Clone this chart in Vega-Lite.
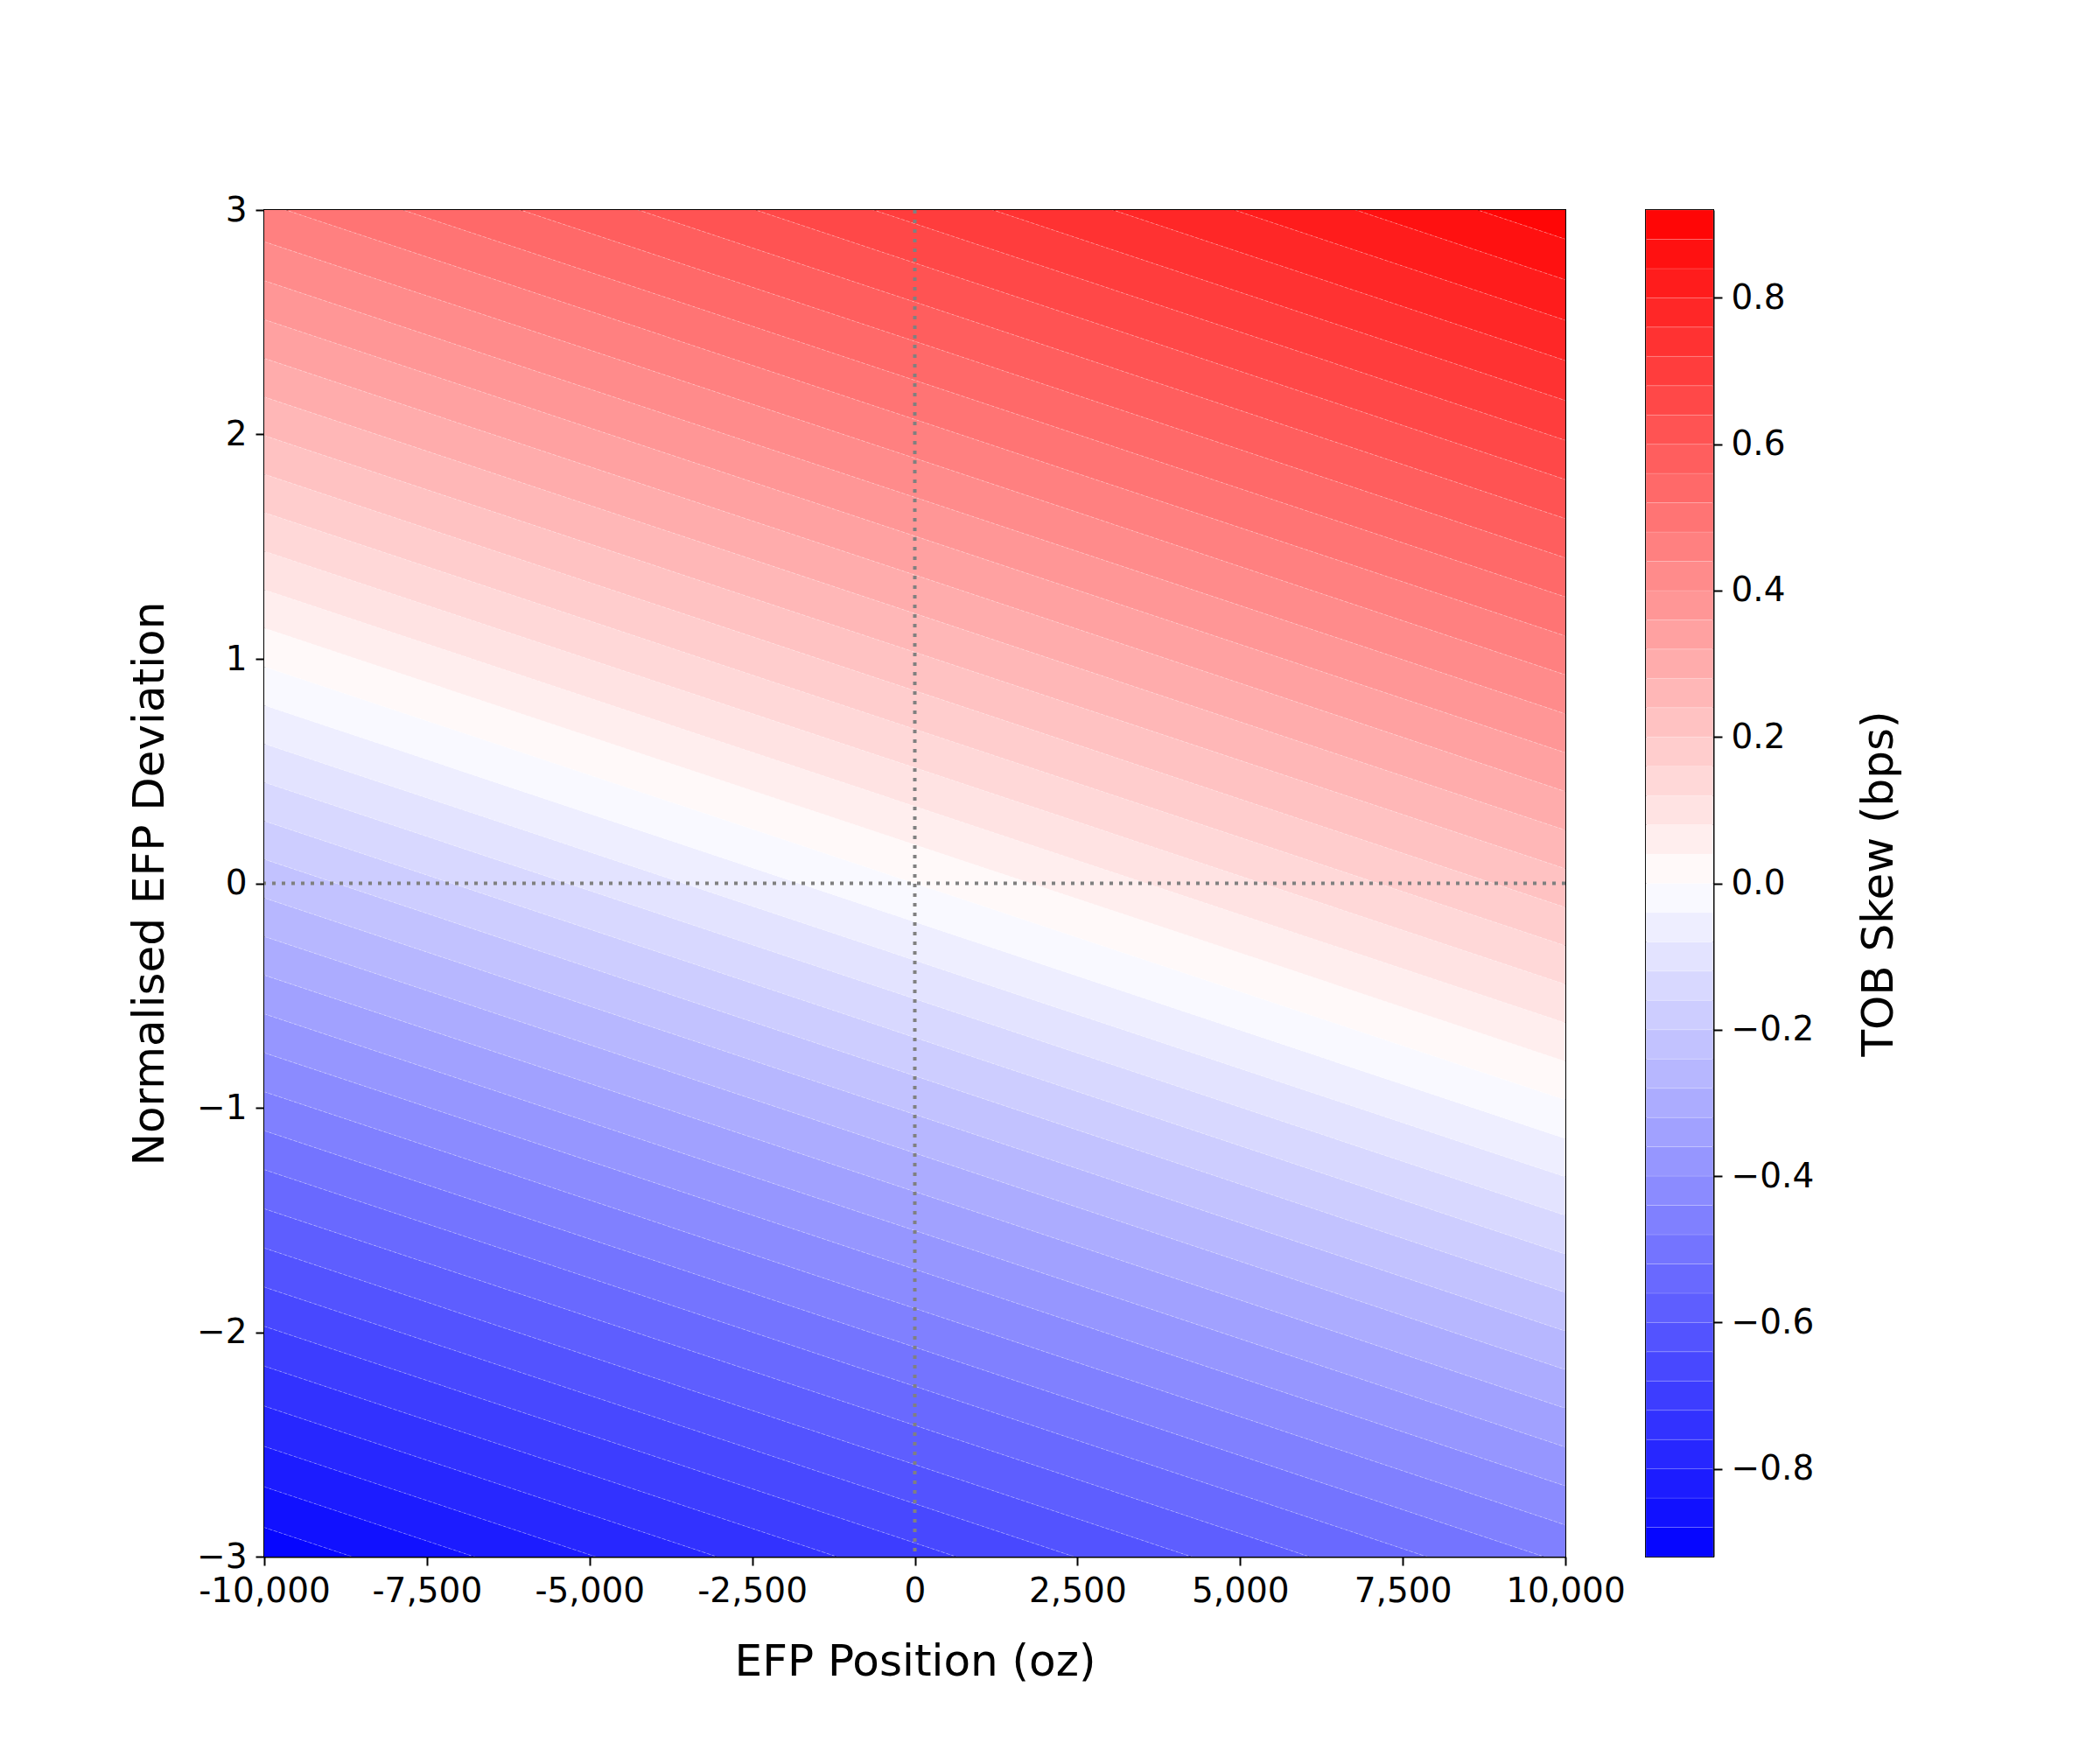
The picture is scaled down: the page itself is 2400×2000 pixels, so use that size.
{
  "$schema": "https://vega.github.io/schema/vega-lite/v6.json",
  "padding": {"left": 145, "top": 220, "right": 10, "bottom": 10},
  "background": "white",
  "config": {
    "font": "DejaVu Sans",
    "view": {"stroke": "black", "strokeWidth": 2, "strokeOpacity": 1},
    "axis": {
      "domainColor": "black", "domainWidth": 2,
      "tickColor": "black", "tickWidth": 2, "tickSize": 10,
      "labelPadding": 10, "labelFontSize": 39, "labelColor": "black", "labelFont": "DejaVu Sans",
      "labelOverlap": false, "labelFlush": false,
      "titleFontSize": 50, "titleFontWeight": "normal", "titleColor": "black", "titleFont": "DejaVu Sans",
      "grid": false
    }
  },
  "datasets": {
    "bands": [
      {"skew": -0.90, "lo": -0.92, "hi": -0.88, "pos": -10000, "d0": -3.051, "d1": -2.870},
      {"skew": -0.90, "lo": -0.92, "hi": -0.88, "pos": 10000, "d0": -4.981, "d1": -4.800},
      {"skew": -0.86, "lo": -0.88, "hi": -0.84, "pos": -10000, "d0": -2.870, "d1": -2.689},
      {"skew": -0.86, "lo": -0.88, "hi": -0.84, "pos": 10000, "d0": -4.800, "d1": -4.619},
      {"skew": -0.82, "lo": -0.84, "hi": -0.80, "pos": -10000, "d0": -2.689, "d1": -2.509},
      {"skew": -0.82, "lo": -0.84, "hi": -0.80, "pos": 10000, "d0": -4.619, "d1": -4.439},
      {"skew": -0.78, "lo": -0.80, "hi": -0.76, "pos": -10000, "d0": -2.509, "d1": -2.329},
      {"skew": -0.78, "lo": -0.80, "hi": -0.76, "pos": 10000, "d0": -4.439, "d1": -4.259},
      {"skew": -0.74, "lo": -0.76, "hi": -0.72, "pos": -10000, "d0": -2.329, "d1": -2.151},
      {"skew": -0.74, "lo": -0.76, "hi": -0.72, "pos": 10000, "d0": -4.259, "d1": -4.081},
      {"skew": -0.70, "lo": -0.72, "hi": -0.68, "pos": -10000, "d0": -2.151, "d1": -1.974},
      {"skew": -0.70, "lo": -0.72, "hi": -0.68, "pos": 10000, "d0": -4.081, "d1": -3.904},
      {"skew": -0.66, "lo": -0.68, "hi": -0.64, "pos": -10000, "d0": -1.974, "d1": -1.799},
      {"skew": -0.66, "lo": -0.68, "hi": -0.64, "pos": 10000, "d0": -3.904, "d1": -3.729},
      {"skew": -0.62, "lo": -0.64, "hi": -0.60, "pos": -10000, "d0": -1.799, "d1": -1.625},
      {"skew": -0.62, "lo": -0.64, "hi": -0.60, "pos": 10000, "d0": -3.729, "d1": -3.555},
      {"skew": -0.58, "lo": -0.60, "hi": -0.56, "pos": -10000, "d0": -1.625, "d1": -1.450},
      {"skew": -0.58, "lo": -0.60, "hi": -0.56, "pos": 10000, "d0": -3.555, "d1": -3.380},
      {"skew": -0.54, "lo": -0.56, "hi": -0.52, "pos": -10000, "d0": -1.450, "d1": -1.276},
      {"skew": -0.54, "lo": -0.56, "hi": -0.52, "pos": 10000, "d0": -3.380, "d1": -3.206},
      {"skew": -0.50, "lo": -0.52, "hi": -0.48, "pos": -10000, "d0": -1.276, "d1": -1.102},
      {"skew": -0.50, "lo": -0.52, "hi": -0.48, "pos": 10000, "d0": -3.206, "d1": -3.032},
      {"skew": -0.46, "lo": -0.48, "hi": -0.44, "pos": -10000, "d0": -1.102, "d1": -0.929},
      {"skew": -0.46, "lo": -0.48, "hi": -0.44, "pos": 10000, "d0": -3.032, "d1": -2.859},
      {"skew": -0.42, "lo": -0.44, "hi": -0.40, "pos": -10000, "d0": -0.929, "d1": -0.755},
      {"skew": -0.42, "lo": -0.44, "hi": -0.40, "pos": 10000, "d0": -2.859, "d1": -2.685},
      {"skew": -0.38, "lo": -0.40, "hi": -0.36, "pos": -10000, "d0": -0.755, "d1": -0.582},
      {"skew": -0.38, "lo": -0.40, "hi": -0.36, "pos": 10000, "d0": -2.685, "d1": -2.512},
      {"skew": -0.34, "lo": -0.36, "hi": -0.32, "pos": -10000, "d0": -0.582, "d1": -0.409},
      {"skew": -0.34, "lo": -0.36, "hi": -0.32, "pos": 10000, "d0": -2.512, "d1": -2.339},
      {"skew": -0.30, "lo": -0.32, "hi": -0.28, "pos": -10000, "d0": -0.409, "d1": -0.237},
      {"skew": -0.30, "lo": -0.32, "hi": -0.28, "pos": 10000, "d0": -2.339, "d1": -2.167},
      {"skew": -0.26, "lo": -0.28, "hi": -0.24, "pos": -10000, "d0": -0.237, "d1": -0.065},
      {"skew": -0.26, "lo": -0.28, "hi": -0.24, "pos": 10000, "d0": -2.167, "d1": -1.995},
      {"skew": -0.22, "lo": -0.24, "hi": -0.20, "pos": -10000, "d0": -0.065, "d1": 0.107},
      {"skew": -0.22, "lo": -0.24, "hi": -0.20, "pos": 10000, "d0": -1.995, "d1": -1.823},
      {"skew": -0.18, "lo": -0.20, "hi": -0.16, "pos": -10000, "d0": 0.107, "d1": 0.278},
      {"skew": -0.18, "lo": -0.20, "hi": -0.16, "pos": 10000, "d0": -1.823, "d1": -1.652},
      {"skew": -0.14, "lo": -0.16, "hi": -0.12, "pos": -10000, "d0": 0.278, "d1": 0.450},
      {"skew": -0.14, "lo": -0.16, "hi": -0.12, "pos": 10000, "d0": -1.652, "d1": -1.480},
      {"skew": -0.10, "lo": -0.12, "hi": -0.08, "pos": -10000, "d0": 0.450, "d1": 0.622},
      {"skew": -0.10, "lo": -0.12, "hi": -0.08, "pos": 10000, "d0": -1.480, "d1": -1.308},
      {"skew": -0.06, "lo": -0.08, "hi": -0.04, "pos": -10000, "d0": 0.622, "d1": 0.793},
      {"skew": -0.06, "lo": -0.08, "hi": -0.04, "pos": 10000, "d0": -1.308, "d1": -1.137},
      {"skew": -0.02, "lo": -0.04, "hi": 0.00, "pos": -10000, "d0": 0.793, "d1": 0.965},
      {"skew": -0.02, "lo": -0.04, "hi": 0.00, "pos": 10000, "d0": -1.137, "d1": -0.965},
      {"skew": 0.02, "lo": 0.00, "hi": 0.04, "pos": -10000, "d0": 0.965, "d1": 1.137},
      {"skew": 0.02, "lo": 0.00, "hi": 0.04, "pos": 10000, "d0": -0.965, "d1": -0.793},
      {"skew": 0.06, "lo": 0.04, "hi": 0.08, "pos": -10000, "d0": 1.137, "d1": 1.308},
      {"skew": 0.06, "lo": 0.04, "hi": 0.08, "pos": 10000, "d0": -0.793, "d1": -0.622},
      {"skew": 0.10, "lo": 0.08, "hi": 0.12, "pos": -10000, "d0": 1.308, "d1": 1.480},
      {"skew": 0.10, "lo": 0.08, "hi": 0.12, "pos": 10000, "d0": -0.622, "d1": -0.450},
      {"skew": 0.14, "lo": 0.12, "hi": 0.16, "pos": -10000, "d0": 1.480, "d1": 1.652},
      {"skew": 0.14, "lo": 0.12, "hi": 0.16, "pos": 10000, "d0": -0.450, "d1": -0.278},
      {"skew": 0.18, "lo": 0.16, "hi": 0.20, "pos": -10000, "d0": 1.652, "d1": 1.823},
      {"skew": 0.18, "lo": 0.16, "hi": 0.20, "pos": 10000, "d0": -0.278, "d1": -0.107},
      {"skew": 0.22, "lo": 0.20, "hi": 0.24, "pos": -10000, "d0": 1.823, "d1": 1.995},
      {"skew": 0.22, "lo": 0.20, "hi": 0.24, "pos": 10000, "d0": -0.107, "d1": 0.065},
      {"skew": 0.26, "lo": 0.24, "hi": 0.28, "pos": -10000, "d0": 1.995, "d1": 2.167},
      {"skew": 0.26, "lo": 0.24, "hi": 0.28, "pos": 10000, "d0": 0.065, "d1": 0.237},
      {"skew": 0.30, "lo": 0.28, "hi": 0.32, "pos": -10000, "d0": 2.167, "d1": 2.339},
      {"skew": 0.30, "lo": 0.28, "hi": 0.32, "pos": 10000, "d0": 0.237, "d1": 0.409},
      {"skew": 0.34, "lo": 0.32, "hi": 0.36, "pos": -10000, "d0": 2.339, "d1": 2.512},
      {"skew": 0.34, "lo": 0.32, "hi": 0.36, "pos": 10000, "d0": 0.409, "d1": 0.582},
      {"skew": 0.38, "lo": 0.36, "hi": 0.40, "pos": -10000, "d0": 2.512, "d1": 2.685},
      {"skew": 0.38, "lo": 0.36, "hi": 0.40, "pos": 10000, "d0": 0.582, "d1": 0.755},
      {"skew": 0.42, "lo": 0.40, "hi": 0.44, "pos": -10000, "d0": 2.685, "d1": 2.859},
      {"skew": 0.42, "lo": 0.40, "hi": 0.44, "pos": 10000, "d0": 0.755, "d1": 0.929},
      {"skew": 0.46, "lo": 0.44, "hi": 0.48, "pos": -10000, "d0": 2.859, "d1": 3.032},
      {"skew": 0.46, "lo": 0.44, "hi": 0.48, "pos": 10000, "d0": 0.929, "d1": 1.102},
      {"skew": 0.50, "lo": 0.48, "hi": 0.52, "pos": -10000, "d0": 3.032, "d1": 3.206},
      {"skew": 0.50, "lo": 0.48, "hi": 0.52, "pos": 10000, "d0": 1.102, "d1": 1.276},
      {"skew": 0.54, "lo": 0.52, "hi": 0.56, "pos": -10000, "d0": 3.206, "d1": 3.380},
      {"skew": 0.54, "lo": 0.52, "hi": 0.56, "pos": 10000, "d0": 1.276, "d1": 1.450},
      {"skew": 0.58, "lo": 0.56, "hi": 0.60, "pos": -10000, "d0": 3.380, "d1": 3.555},
      {"skew": 0.58, "lo": 0.56, "hi": 0.60, "pos": 10000, "d0": 1.450, "d1": 1.625},
      {"skew": 0.62, "lo": 0.60, "hi": 0.64, "pos": -10000, "d0": 3.555, "d1": 3.729},
      {"skew": 0.62, "lo": 0.60, "hi": 0.64, "pos": 10000, "d0": 1.625, "d1": 1.799},
      {"skew": 0.66, "lo": 0.64, "hi": 0.68, "pos": -10000, "d0": 3.729, "d1": 3.904},
      {"skew": 0.66, "lo": 0.64, "hi": 0.68, "pos": 10000, "d0": 1.799, "d1": 1.974},
      {"skew": 0.70, "lo": 0.68, "hi": 0.72, "pos": -10000, "d0": 3.904, "d1": 4.081},
      {"skew": 0.70, "lo": 0.68, "hi": 0.72, "pos": 10000, "d0": 1.974, "d1": 2.151},
      {"skew": 0.74, "lo": 0.72, "hi": 0.76, "pos": -10000, "d0": 4.081, "d1": 4.259},
      {"skew": 0.74, "lo": 0.72, "hi": 0.76, "pos": 10000, "d0": 2.151, "d1": 2.329},
      {"skew": 0.78, "lo": 0.76, "hi": 0.80, "pos": -10000, "d0": 4.259, "d1": 4.439},
      {"skew": 0.78, "lo": 0.76, "hi": 0.80, "pos": 10000, "d0": 2.329, "d1": 2.509},
      {"skew": 0.82, "lo": 0.80, "hi": 0.84, "pos": -10000, "d0": 4.439, "d1": 4.619},
      {"skew": 0.82, "lo": 0.80, "hi": 0.84, "pos": 10000, "d0": 2.509, "d1": 2.689},
      {"skew": 0.86, "lo": 0.84, "hi": 0.88, "pos": -10000, "d0": 4.619, "d1": 4.800},
      {"skew": 0.86, "lo": 0.84, "hi": 0.88, "pos": 10000, "d0": 2.689, "d1": 2.870},
      {"skew": 0.90, "lo": 0.88, "hi": 0.92, "pos": -10000, "d0": 4.800, "d1": 4.981},
      {"skew": 0.90, "lo": 0.88, "hi": 0.92, "pos": 10000, "d0": 2.870, "d1": 3.051}
    ],
    "zero": [{"v": 0}]
  },
  "spacing": 20,
  "hconcat": [
    {
      "width": 1487,
      "height": 1539,
      "layer": [
        {
          "data": {"name": "bands"},
          "mark": {"type": "area", "clip": true, "opacity": 1},
          "encoding": {
            "x": {
              "field": "pos", "type": "quantitative",
              "scale": {"domain": [-10000, 10000], "nice": false, "zero": false},
              "axis": {
                "title": "EFP Position (oz)",
                "values": [-10000, -7500, -5000, -2500, 0, 2500, 5000, 7500, 10000],
                "labelExpr": "replace(format(datum.value, ','), '\u2212', '-')",
                "titlePadding": 36
              }
            },
            "y": {
              "field": "d0", "type": "quantitative",
              "scale": {"domain": [-3, 3], "nice": false, "zero": false},
              "axis": {
                "title": "Normalised EFP Deviation",
                "values": [-3, -2, -1, 0, 1, 2, 3],
                "format": "d",
                "titlePadding": 28
              }
            },
            "y2": {"field": "d1"},
            "color": {
              "field": "skew", "type": "quantitative",
              "scale": {"domain": [-0.92, 0, 0.92], "range": ["#0000ff", "#ffffff", "#ff0000"], "interpolate": "rgb"},
              "legend": null
            },
            "detail": {"field": "skew", "type": "nominal"}
          }
        },
        {
          "data": {"name": "bands"},
          "mark": {"type": "line", "clip": true, "color": "white", "strokeOpacity": 0.3, "strokeWidth": 1, "strokeDash": [3, 3]},
          "encoding": {
            "x": {"field": "pos", "type": "quantitative"},
            "y": {"field": "d0", "type": "quantitative"},
            "detail": {"field": "skew", "type": "nominal"}
          }
        },
        {
          "data": {"name": "zero"},
          "mark": {"type": "rule", "color": "#808080", "strokeWidth": 4, "strokeDash": [4, 7]},
          "encoding": {"x": {"field": "v", "type": "quantitative"}}
        },
        {
          "data": {"name": "zero"},
          "mark": {"type": "rule", "color": "#808080", "strokeWidth": 4, "strokeDash": [4, 7]},
          "encoding": {"y": {"field": "v", "type": "quantitative"}}
        }
      ]
    },
    {
      "width": 77,
      "height": 1539,
      "data": {"name": "bands"},
      "transform": [{"filter": "datum.pos < 0"}],
      "mark": {"type": "rect", "stroke": "white", "strokeOpacity": 0.15, "strokeWidth": 1},
      "encoding": {
        "y": {
          "field": "lo", "type": "quantitative",
          "scale": {"domain": [-0.92, 0.92], "nice": false, "zero": false},
          "axis": {
            "orient": "right",
            "title": "TOB Skew (bps)",
            "values": [-0.8, -0.6, -0.4, -0.2, 0, 0.2, 0.4, 0.6, 0.8],
            "format": ".1f",
            "titleAngle": 270,
            "titleBaseline": "top",
            "titlePadding": 50
          }
        },
        "y2": {"field": "hi"},
        "color": {"field": "skew", "type": "quantitative", "legend": null}
      }
    }
  ]
}
